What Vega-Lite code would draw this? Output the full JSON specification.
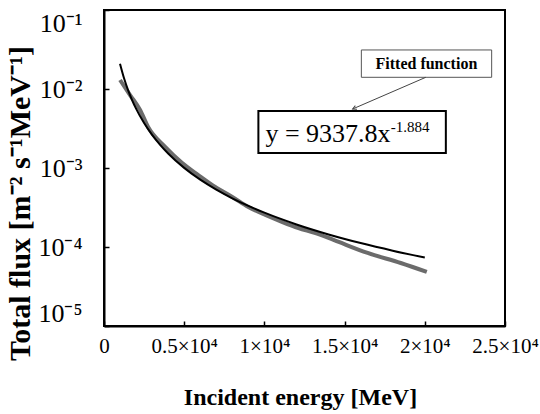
{
  "$schema": "https://vega.github.io/schema/vega-lite/v6.json",
  "width": 401,
  "height": 316,
  "autosize": "none",
  "padding": {"left": 104, "top": 10, "right": 35, "bottom": 88},
  "background": "white",
  "config": {
    "view": {"stroke": "black", "strokeWidth": 2},
    "font": "Liberation Serif"
  },
  "datasets": {
    "measured": [
      {"energy": 1000, "flux": 0.0130},
      {"energy": 1625, "flux": 0.00839},
      {"energy": 2250, "flux": 0.00542},
      {"energy": 2750, "flux": 0.00330},
      {"energy": 3812, "flux": 0.00185},
      {"energy": 4875, "flux": 0.001157},
      {"energy": 5875, "flux": 0.000815},
      {"energy": 6937, "flux": 0.000574},
      {"energy": 8000, "flux": 0.000430},
      {"energy": 9000, "flux": 0.000321},
      {"energy": 10062, "flux": 0.000254},
      {"energy": 11125, "flux": 0.000207},
      {"energy": 12125, "flux": 0.000174},
      {"energy": 13187, "flux": 0.000150},
      {"energy": 14312, "flux": 0.000123},
      {"energy": 16437, "flux": 0.0000840},
      {"energy": 18500, "flux": 0.0000627},
      {"energy": 20125, "flux": 0.0000483}
    ],
    "fitted": [
      {"energy": 1000, "flux": 0.02081},
      {"energy": 1250, "flux": 0.01367},
      {"energy": 1500, "flux": 0.009693},
      {"energy": 1750, "flux": 0.007252},
      {"energy": 2000, "flux": 0.005637},
      {"energy": 2500, "flux": 0.003704},
      {"energy": 3000, "flux": 0.002627},
      {"energy": 3500, "flux": 0.001965},
      {"energy": 4000, "flux": 0.001528},
      {"energy": 5000, "flux": 0.001003},
      {"energy": 6000, "flux": 0.0007117},
      {"energy": 7000, "flux": 0.0005322},
      {"energy": 8000, "flux": 0.0004137},
      {"energy": 9000, "flux": 0.0003314},
      {"energy": 10000, "flux": 0.0002718},
      {"energy": 12000, "flux": 0.0001928},
      {"energy": 14000, "flux": 0.0001442},
      {"energy": 16000, "flux": 0.0001121},
      {"energy": 18000, "flux": 0.0000898},
      {"energy": 20000, "flux": 0.00007364}
    ],
    "boxes": [
      {"box": "label", "energy": 16044, "energy2": 24169, "flux": 0.0312, "flux2": 0.01406},
      {"box": "equation", "energy": 9625, "energy2": 21312, "flux": 0.005272, "flux2": 0.001549}
    ],
    "arrow": [
      {"energy": 20062, "flux": 0.01406, "energy2": 15500, "flux2": 0.005585}
    ],
    "labels": [
      {"text": "Fitted function", "energy": 20100, "flux": 0.0207}
    ],
    "equation": [
      {"text": "y = 9337.8x", "energy": 10062, "flux": 0.002133}
    ],
    "exponent": [
      {"text": "-1.884", "energy": 17875, "flux": 0.002858}
    ]
  },
  "layer": [
    {
      "data": {"name": "measured"},
      "mark": {"type": "line", "color": "#6b6b6b", "strokeWidth": 4, "interpolate": "monotone"},
      "encoding": {
        "x": {
          "field": "energy", "type": "quantitative",
          "scale": {"domain": [0, 25000], "nice": false, "zero": false},
          "axis": {
            "title": "Incident energy [MeV]",
            "values": [0, 5000, 10000, 15000, 20000, 25000],
            "labelExpr": "['0','0.5×10⁴','1×10⁴','1.5×10⁴','2×10⁴','2.5×10⁴'][round(datum.value/5000)]",
            "labelFont": "Liberation Serif", "labelFontSize": 21, "labelColor": "black",
            "labelPadding": 14, "labelFlush": false, "labelOverlap": false,
            "tickSize": -5, "tickColor": "black", "tickWidth": 1.5,
            "domainColor": "black", "domainWidth": 2, "grid": false,
            "titleFont": "Liberation Serif", "titleFontSize": 24, "titleFontWeight": "bold", "titleColor": "black",
            "titleX": 196, "titleY": 78, "titleBaseline": "alphabetic", "titleAlign": "center"
          }
        },
        "y": {
          "field": "flux", "type": "quantitative",
          "scale": {"type": "log", "domain": [0.00001, 0.1], "nice": false},
          "axis": {
            "title": "Total flux [m⁻² s⁻¹MeV⁻¹]",
            "values": [0.00001, 0.0001, 0.001, 0.01, 0.1],
            "labelExpr": "'10' + ['⁻¹','⁻²','⁻³','⁻⁴','⁻⁵'][round(-log(datum.value)/LN10)-1]",
            "labelFont": "Liberation Serif", "labelFontSize": 26, "labelColor": "black",
            "labelPadding": 27, "labelFlush": true, "labelOverlap": false,
            "tickSize": -5, "tickColor": "black", "tickWidth": 1.5,
            "domainColor": "black", "domainWidth": 2, "grid": false,
            "titleFont": "Liberation Serif", "titleFontSize": 30, "titleFontWeight": "bold", "titleColor": "black",
            "titleX": -84, "titleY": 193, "titleAngle": -90, "titleBaseline": "middle", "titleAlign": "center"
          }
        }
      }
    },
    {
      "data": {"name": "fitted"},
      "mark": {"type": "line", "color": "black", "strokeWidth": 2, "interpolate": "monotone"},
      "encoding": {
        "x": {"field": "energy", "type": "quantitative"},
        "y": {"field": "flux", "type": "quantitative"}
      }
    },
    {
      "data": {"name": "boxes"},
      "mark": {"type": "rect", "fill": "white"},
      "encoding": {
        "x": {"field": "energy", "type": "quantitative"},
        "x2": {"field": "energy2"},
        "y": {"field": "flux", "type": "quantitative"},
        "y2": {"field": "flux2"},
        "stroke": {"field": "box", "type": "nominal", "scale": {"domain": ["label", "equation"], "range": ["#555555", "black"]}, "legend": null},
        "strokeWidth": {"field": "box", "type": "nominal", "scale": {"domain": ["label", "equation"], "range": [1, 2]}, "legend": null}
      }
    },
    {
      "data": {"name": "arrow"},
      "mark": {"type": "rule", "color": "#444444", "strokeWidth": 1},
      "encoding": {
        "x": {"field": "energy", "type": "quantitative"},
        "x2": {"field": "energy2"},
        "y": {"field": "flux", "type": "quantitative"},
        "y2": {"field": "flux2"}
      }
    },
    {
      "data": {"name": "arrow"},
      "mark": {"type": "point", "shape": "M-0.5,1L0,0L0.5,1", "filled": false, "color": "#444444", "strokeWidth": 1, "size": 60, "angle": 246, "opacity": 1},
      "encoding": {
        "x": {"field": "energy2", "type": "quantitative"},
        "y": {"field": "flux2", "type": "quantitative"}
      }
    },
    {
      "data": {"name": "labels"},
      "mark": {"type": "text", "font": "Liberation Serif", "fontSize": 16, "fontWeight": "bold", "color": "black", "align": "center", "baseline": "middle"},
      "encoding": {
        "x": {"field": "energy", "type": "quantitative"},
        "y": {"field": "flux", "type": "quantitative"},
        "text": {"field": "text"}
      }
    },
    {
      "data": {"name": "equation"},
      "mark": {"type": "text", "font": "Liberation Serif", "fontSize": 26, "color": "black", "align": "left", "baseline": "alphabetic"},
      "encoding": {
        "x": {"field": "energy", "type": "quantitative"},
        "y": {"field": "flux", "type": "quantitative"},
        "text": {"field": "text"}
      }
    },
    {
      "data": {"name": "exponent"},
      "mark": {"type": "text", "font": "Liberation Serif", "fontSize": 15, "color": "black", "align": "left", "baseline": "alphabetic"},
      "encoding": {
        "x": {"field": "energy", "type": "quantitative"},
        "y": {"field": "flux", "type": "quantitative"},
        "text": {"field": "text"}
      }
    }
  ]
}
